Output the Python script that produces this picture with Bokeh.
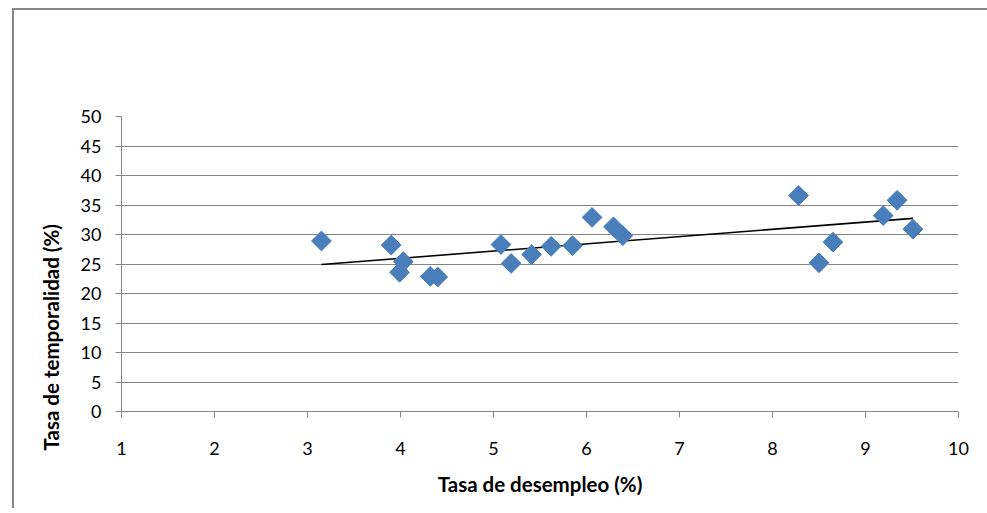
import numpy as np
from bokeh.plotting import figure
from bokeh.models import Range1d, FixedTicker, Title
from bokeh.embed import file_html
from bokeh.resources import INLINE

# Data
desempleo = [3.15, 3.90, 4.03, 3.99, 4.32, 4.40, 5.08, 5.19, 5.41, 5.62,
             5.85, 6.06, 6.29, 6.39, 8.28, 8.50, 8.65, 9.19, 9.34, 9.51]
temporalidad = [28.9, 28.2, 25.4, 23.6, 22.9, 22.8, 28.3, 25.1, 26.6, 28.0,
                28.1, 32.9, 31.3, 29.8, 36.6, 25.2, 28.7, 33.2, 35.8, 30.9]
x_ticks = [1, 2, 3, 4, 5, 6, 7, 8, 9, 10]
y_ticks = [0, 5, 10, 15, 20, 25, 30, 35, 40, 45, 50]
x_title = "Tasa de desempleo (%)"
y_title = "Tasa de temporalidad (%)"

FONT = "Lato"
GRAY = "#868686"

p = figure(width=990, height=500, output_backend="svg", toolbar_location=None,
           x_range=Range1d(1, 10), y_range=Range1d(0, 50),
           min_border_left=107, min_border_right=46,
           min_border_top=106, min_border_bottom=99)

p.margin = (8, 0, 0, 12)
p.styles = {"border-left": "2px solid #868686", "border-top": "2px solid #868686"}

p.outline_line_color = None
p.background_fill_color = "white"
p.border_fill_color = "white"

# Linear trend line from the data
slope, intercept = np.polyfit(desempleo, temporalidad, 1)
tx = np.array([min(desempleo), max(desempleo)])
p.line(tx, slope * tx + intercept, line_color="black", line_width=1.6)

p.scatter(desempleo, temporalidad, marker="square", angle=np.pi / 4, size=14,
          fill_color="#4a7ebb", line_color="#4a7ebb")

p.xgrid.visible = False
p.ygrid.ticker = FixedTicker(ticks=y_ticks)
p.ygrid.grid_line_color = GRAY
p.ygrid.grid_line_width = 1

for ax in (p.xaxis[0], p.yaxis[0]):
    ax.axis_line_color = GRAY
    ax.axis_line_width = 1
    ax.major_tick_line_color = GRAY
    ax.minor_tick_line_color = None
    ax.major_tick_in = 0
    ax.major_tick_out = 6
    ax.major_label_text_font = FONT
    ax.major_label_text_font_size = "18px"
    ax.major_label_text_color = "black"
    ax.axis_label_text_font = FONT
    ax.axis_label_text_font_style = "bold"
    ax.axis_label_text_font_size = "20.5px"
    ax.axis_label_text_color = "black"

p.xaxis[0].ticker = FixedTicker(ticks=x_ticks)
p.yaxis[0].ticker = FixedTicker(ticks=y_ticks)
p.xaxis[0].axis_label = x_title
p.xaxis[0].major_label_standoff = 24
p.yaxis[0].major_label_standoff = 14
p.xaxis[0].axis_label_standoff = 14

# Y-axis title, placed lower than centre as in the reference
ytitle = Title(text=y_title, align="left", offset=-39, standoff=29,
               text_font=FONT, text_font_style="bold", text_font_size="20.5px",
               text_color="black")
p.add_layout(ytitle, "left")

open("out.html", "w").write(file_html(p, INLINE))
